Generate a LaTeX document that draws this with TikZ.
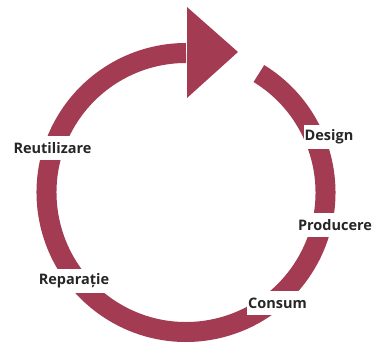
\documentclass[tikz,border=0pt]{standalone}
\usepackage{fontspec}
\setmainfont{Open Sans}
\usepackage{xcolor}
\usepackage{tikz}
\usetikzlibrary{positioning}

\definecolor{ringred}{RGB}{163,59,82}

\begin{document}
\begin{tikzpicture}[x=1pt,y=1pt,
  ring/.style={draw=ringred, line width=20pt},
  every node/.style={fill=white, font=\bfseries\fontsize{14.5}{16}\selectfont, text=black!85,
    minimum height=24pt, inner xsep=1pt, inner ysep=0pt}]

  \useasboundingbox (0,0) rectangle (375,344);
  \coordinate (c) at (186,151.5);

  % cycle ring with arrow
  \draw[ring] ([shift={(58.5:139.5)}]c) arc[start angle=58.5, end angle=-270, radius=139.5];
  \fill[ringred] (187,337) -- (238,292) -- (187,246) -- cycle;

  \node(design)   at (329,207)   {Design};
  \node(producere) at (335,119)  {Producere};
  \node(consum)   at (277.5,41)  {Consum};
  \node(reparatie) at (74,63)    {Reparație};
  \node(reutil)   at (52.5,196)  {Reutilizare};
\end{tikzpicture}
\end{document}
